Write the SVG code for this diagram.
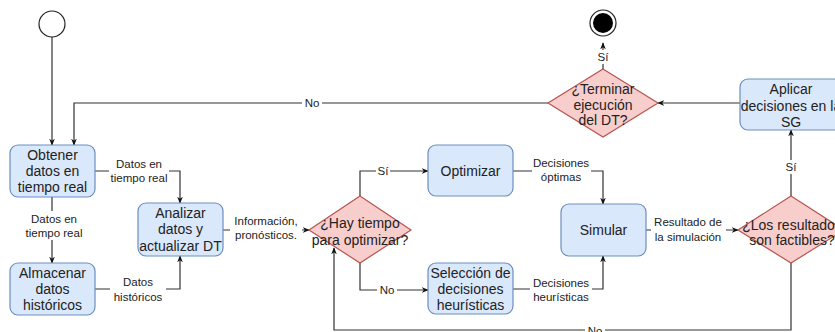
<svg xmlns="http://www.w3.org/2000/svg" width="835" height="332" viewBox="0 0 835 332">
<defs>
<style>
.box{fill:#dae8fc;stroke:#6c8ebf;stroke-width:1.2}
.dia{fill:#f8cecc;stroke:#b85450;stroke-width:1.2}
.t{font-family:"Liberation Sans",Arial,sans-serif;font-size:14px;fill:#222;text-anchor:middle}
.l{font-family:"Liberation Sans",Arial,sans-serif;font-size:11.5px;fill:#222;text-anchor:middle}
.e{fill:none;stroke:#333;stroke-width:1.2;marker-end:url(#a)}
.bg{fill:#fff}
</style>
<marker id="a" viewBox="0 0 10 10" refX="9" refY="5" markerWidth="7" markerHeight="7" markerUnits="userSpaceOnUse" orient="auto">
<path d="M0,1 L10,5 L0,9 L3,5 Z" fill="#111"/>
</marker>
</defs>
<rect width="835" height="332" fill="#fff"/>

<g id="edges">
<path class="e" d="M52,37 V145"/>
<path class="e" d="M548,103 H74 V145"/>
<path class="e" d="M52,197 V263"/>
<path class="e" d="M95,171 H180 V203"/>
<path class="e" d="M95,289 H180 V256"/>
<path class="e" d="M223,230 H309"/>
<path class="e" d="M360,196 V171 H428"/>
<path class="e" d="M360,263 V290 H428"/>
<path class="e" d="M513,171 H603 V204"/>
<path class="e" d="M513,289 H603 V256"/>
<path class="e" d="M646,230 H738"/>
<path class="e" d="M791,196 V130"/>
<path class="e" d="M740,103 H658"/>
<path class="e" d="M603,69 V43"/>
<path class="e" d="M791,263 V330 H334 V248"/>
</g>

<g id="edge-labels">
<rect class="bg" x="109" y="156" width="60" height="29"/>
<text class="l" x="139" y="168">Datos en</text>
<text class="l" x="139" y="182">tiempo real</text>
<rect class="bg" x="23" y="211" width="62" height="29"/>
<text class="l" x="54" y="223">Datos en</text>
<text class="l" x="54" y="237">tiempo real</text>
<rect class="bg" x="110" y="274" width="56" height="29"/>
<text class="l" x="138" y="286">Datos</text>
<text class="l" x="138" y="301">históricos</text>
<rect class="bg" x="230" y="213" width="72" height="29"/>
<text class="l" x="266" y="225">Información,</text>
<text class="l" x="266" y="239">pronósticos.</text>
<rect class="bg" x="376" y="164" width="14" height="14"/>
<text class="l" x="383" y="175">Sí</text>
<rect class="bg" x="377" y="283" width="20" height="14"/>
<text class="l" x="387" y="294">No</text>
<rect class="bg" x="532" y="156" width="59" height="29"/>
<text class="l" x="561" y="167">Decisiones</text>
<text class="l" x="561" y="181">óptimas</text>
<rect class="bg" x="530" y="276" width="62" height="29"/>
<text class="l" x="561" y="287">Decisiones</text>
<text class="l" x="561" y="301">heurísticas</text>
<rect class="bg" x="651" y="214" width="75" height="29"/>
<text class="l" x="688" y="226">Resultado de</text>
<text class="l" x="688" y="241">la simulación</text>
<rect class="bg" x="784" y="160" width="14" height="14"/>
<text class="l" x="791" y="171">Sí</text>
<rect class="bg" x="596" y="50" width="14" height="14"/>
<text class="l" x="603" y="61">Sí</text>
<rect class="bg" x="302" y="96" width="20" height="14"/>
<text class="l" x="312" y="107">No</text>
<rect class="bg" x="585" y="324" width="20" height="10"/>
<text class="l" x="595" y="335">No</text>
</g>

<g id="start">
<circle cx="52" cy="24" r="13" fill="#fff" stroke="#222" stroke-width="1.2"/>
</g>
<g id="end">
<circle cx="603" cy="23" r="13" fill="#fff" stroke="#222" stroke-width="1.2"/>
<circle cx="603" cy="23" r="10" fill="#000"/>
</g>

<g id="obtener">
<rect class="box" x="10" y="145" width="85" height="52" rx="8"/>
<text class="t" x="52.5" y="160">Obtener</text>
<text class="t" x="52.5" y="176">datos en</text>
<text class="t" x="52.5" y="192">tiempo real</text>
</g>
<g id="almacenar">
<rect class="box" x="10" y="263" width="85" height="52" rx="8"/>
<text class="t" x="52.5" y="278">Almacenar</text>
<text class="t" x="52.5" y="294">datos</text>
<text class="t" x="52.5" y="310">históricos</text>
</g>
<g id="analizar">
<rect class="box" x="138" y="203" width="85" height="53" rx="8"/>
<text class="t" x="180.5" y="218">Analizar</text>
<text class="t" x="180.5" y="234">datos y</text>
<text class="t" x="180.5" y="251">actualizar DT</text>
</g>
<g id="hay-tiempo">
<path class="dia" d="M360,196 L411,230 L360,263 L309,230 Z"/>
<text class="t" x="360" y="228">¿Hay tiempo</text>
<text class="t" x="360" y="245">para optimizar?</text>
</g>
<g id="optimizar">
<rect class="box" x="428" y="145" width="85" height="51" rx="8"/>
<text class="t" x="470.5" y="176">Optimizar</text>
</g>
<g id="seleccion">
<rect class="box" x="428" y="263" width="85" height="51" rx="8"/>
<text class="t" x="470.5" y="278">Selección de</text>
<text class="t" x="470.5" y="294">decisiones</text>
<text class="t" x="470.5" y="310">heurísticas</text>
</g>
<g id="simular">
<rect class="box" x="561" y="204" width="85" height="52" rx="8"/>
<text class="t" x="603.5" y="235">Simular</text>
</g>
<g id="factibles">
<path class="dia" d="M791,196 L844,230 L791,263 L738,230 Z"/>
<text class="t" x="792" y="230">¿Los resultados</text>
<text class="t" x="792" y="245">son factibles?</text>
</g>
<g id="aplicar">
<rect class="box" x="740" y="79" width="102" height="51" rx="8"/>
<text class="t" x="791" y="94">Aplicar</text>
<text class="t" x="791" y="111">decisiones en la</text>
<text class="t" x="791" y="127">SG</text>
</g>
<g id="terminar">
<path class="dia" d="M603,69 L658,103 L603,137 L548,103 Z"/>
<text class="t" x="603" y="94">¿Terminar</text>
<text class="t" x="603" y="110">ejecución</text>
<text class="t" x="603" y="125">del DT?</text>
</g>
</svg>
